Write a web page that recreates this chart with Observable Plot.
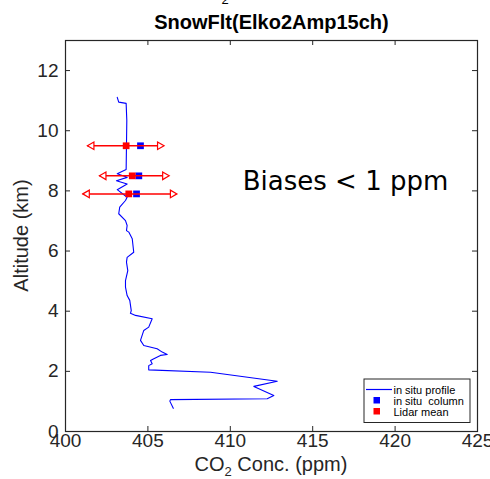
<!DOCTYPE html>
<html><head><meta charset="utf-8">
<script src="https://cdn.jsdelivr.net/npm/d3@7"></script>
<script src="https://cdn.jsdelivr.net/npm/@observablehq/plot@0.6"></script>
<style>
body{margin:0;background:#fff;}
#chart{position:relative;width:490px;height:479px;}
</style></head><body><div id="chart"></div>
<script>
// in situ profile (CO2 ppm, altitude km)
const profileCO2 = [403.14,403.23,403.68,403.72,403.70,403.68,403.14,403.74,403.09,403.74,403.14,403.74,403.64,403.29,403.23,403.64,403.74,403.70,403.84,404.05,404.14,403.74,403.70,403.78,403.64,403.64,403.74,403.90,403.99,403.94,404.25,405.26,405.05,404.75,404.55,404.75,405.56,405.87,406.17,405.76,405.36,405.16,405.26,405.05,405.05,408.80,412.85,411.43,412.64,412.24,406.37,406.33,406.54];
const profileAlt = [11.11,10.95,10.91,10.34,9.51,8.71,8.57,8.45,8.34,8.23,8.04,7.79,7.68,7.46,7.24,7.01,6.85,6.68,6.63,6.41,5.96,5.79,5.63,5.35,5.02,4.80,4.52,4.36,4.02,3.93,3.86,3.75,3.47,3.36,3.03,2.86,2.75,2.64,2.56,2.53,2.42,2.36,2.25,2.19,2.05,1.97,1.67,1.50,1.20,1.09,1.06,1.01,0.77];
// lidar / column comparisons
const levelAlt = [9.5, 8.5, 7.9];
const lidarMean = [403.68, 404.05, 403.84];
const lidarLow = [401.35, 402.08, 401.07];
const lidarHigh = [405.96, 406.27, 406.74];
const insituColumn = [404.55, 404.45, 404.31];
const xTicks = [400,405,410,415,420,425];
const yTicks = [0,2,4,6,8,10,12];
const titleText = "SnowFlt(Elko2Amp15ch)";
const noteText = "Biases < 1 ppm";
const legendLabels = ["in situ profile","in situ  column","Lidar mean"];

const font = "'Liberation Sans', Arial, Helvetica, sans-serif";
const axisColor = "#262626";
const profile = profileCO2.map((x,i)=>({x, y: profileAlt[i]}));
const levels = levelAlt.map((y,i)=>({y, mean: lidarMean[i], lo: lidarLow[i], hi: lidarHigh[i], col: insituColumn[i]}));

const W = 490, H = 479, mL = 65, mR = 13, mT = 40, mB = 48;
const innerW = W - mL - mR, innerH = H - mT - mB, tick = 5;

const plot = Plot.plot({
  width: W, height: H, marginLeft: mL, marginRight: mR, marginTop: mT, marginBottom: mB,
  x: {domain: [400, 425], axis: null},
  y: {domain: [0, 13], axis: null},
  style: {fontFamily: font, background: "#fff", overflow: "visible"},
  marks: [
    Plot.line(profile, {x: "x", y: "y", stroke: "#0000ff", strokeWidth: 1.1}),
    Plot.dot(levels, {x: "col", y: "y", symbol: "square", r: 3.8, fill: "#0000ff"}),
    Plot.ruleY(levels, {y: "y", x1: "lo", x2: "hi", stroke: "#ff0000", strokeWidth: 1.5}),
    Plot.dot(levels, {x: "mean", y: "y", symbol: "square", r: 3.8, fill: "#ff0000"}),
    Plot.dot(levels, {x: "lo", y: "y", symbol: "triangle", rotate: -90, r: 2.8, fill: "white", stroke: "#ff0000", strokeWidth: 1.2, dx: 4}),
    Plot.dot(levels, {x: "hi", y: "y", symbol: "triangle", rotate: 90, r: 2.8, fill: "white", stroke: "#ff0000", strokeWidth: 1.2, dx: -4}),
    Plot.tickX(xTicks, {x: d => d, insetTop: innerH - tick, stroke: axisColor}),
    Plot.tickX(xTicks, {x: d => d, insetBottom: innerH - tick, stroke: axisColor}),
    Plot.tickY(yTicks, {y: d => d, insetRight: innerW - tick, stroke: axisColor}),
    Plot.tickY(yTicks, {y: d => d, insetLeft: innerW - tick, stroke: axisColor}),
    Plot.frame({stroke: axisColor, strokeWidth: 1.2}),
    Plot.text(xTicks, {x: d => d, frameAnchor: "bottom", dy: 15, fontSize: 19, fill: axisColor}),
    Plot.text(yTicks, {y: d => d, frameAnchor: "left", textAnchor: "end", dx: -7, fontSize: 19, fill: axisColor}),
    Plot.text([titleText], {frameAnchor: "top", lineAnchor: "bottom", dy: -12, fontSize: 20, fontWeight: "bold", fill: "#000"}),
    Plot.text([noteText], {frameAnchor: "top", dx: 74, dy: 131, fontSize: 26, fontFamily: "'DejaVu Sans', sans-serif", fill: "#000"})
  ]
});
document.getElementById("chart").appendChild(plot);

const svg = d3.select(plot);
// partially visible subscript from a cropped line above the title
svg.append("text").attr("x", 225).attr("y", 3.5).attr("text-anchor", "middle")
  .attr("font-size", 13).attr("font-family", font).attr("fill", "#000").text("2");
// axis labels
const xl = svg.append("text").attr("x", 271).attr("y", 471).attr("text-anchor", "middle")
  .attr("font-size", 20).attr("font-family", font).attr("fill", axisColor);
xl.append("tspan").text("CO");
xl.append("tspan").attr("font-size", 13).attr("dy", 5).text("2");
xl.append("tspan").attr("dy", -5).text(" Conc. (ppm)");
svg.append("text").attr("transform", "translate(28,235.5) rotate(-90)").attr("text-anchor", "middle")
  .attr("font-size", 20).attr("font-family", font).attr("fill", axisColor).text("Altitude (km)");
// legend
const lg = svg.append("g").attr("font-family", font).attr("font-size", 11).attr("fill", "#000").attr("text-anchor", "start");
lg.append("rect").attr("x", 364).attr("y", 379).attr("width", 106).attr("height", 43.5)
  .attr("fill", "#fff").attr("stroke", axisColor).attr("stroke-width", 1);
lg.append("line").attr("x1", 366).attr("x2", 392).attr("y1", 389.5).attr("y2", 389.5).attr("stroke", "#0000ff").attr("stroke-width", 1.2);
lg.append("rect").attr("x", 373.5).attr("y", 397).attr("width", 6.5).attr("height", 6.5).attr("fill", "#0000ff");
lg.append("rect").attr("x", 373.5).attr("y", 408).attr("width", 6.5).attr("height", 6.5).attr("fill", "#ff0000");
legendLabels.forEach((t, i) => {
  lg.append("text").attr("x", 393.5).attr("y", 393.5 + i * 11).attr("text-anchor", "start").text(t);
});
</script>
</body></html>
